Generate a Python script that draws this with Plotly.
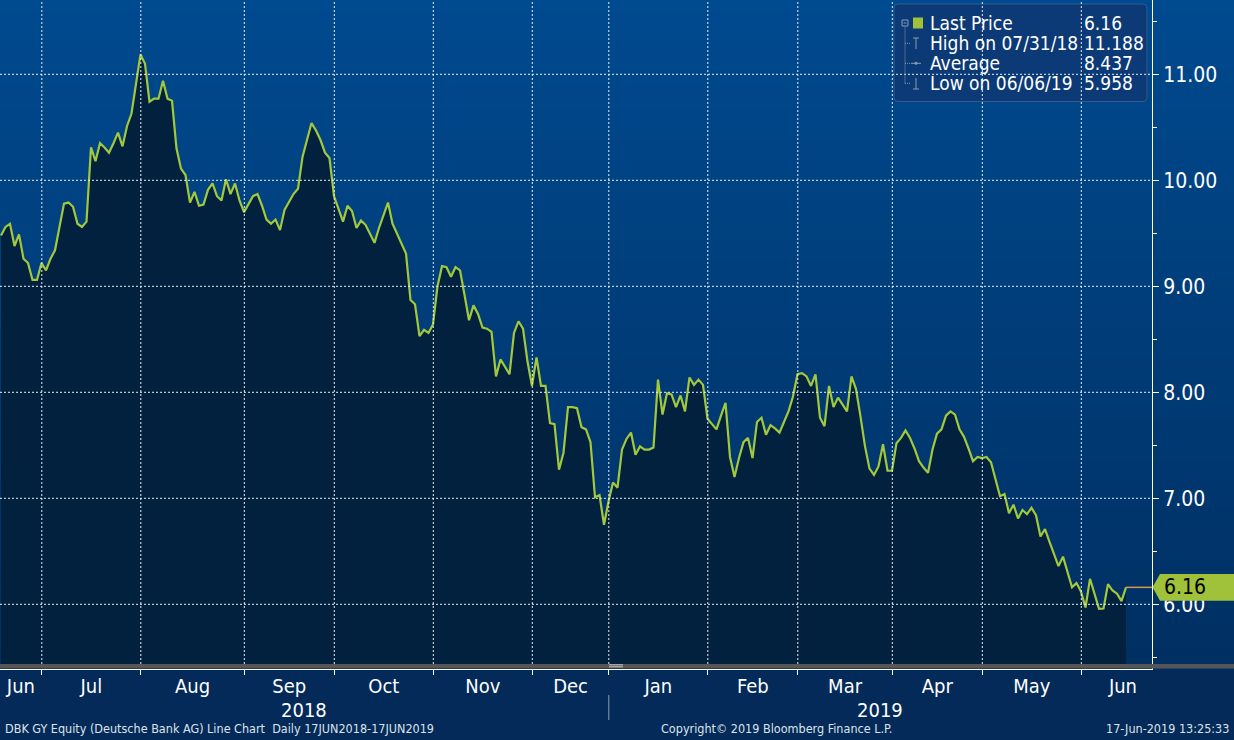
import pandas as pd
import plotly.graph_objects as go

# ---------------- data ----------------
START, END = "2018-06-18", "2019-06-17"
HOLIDAYS = ["2018-10-03", "2018-12-24", "2018-12-25", "2018-12-26", "2018-12-31",
            "2019-01-01", "2019-04-19", "2019-04-22", "2019-05-01", "2019-06-10"]

prices = [
    9.48, 9.56, 9.59, 9.38, 9.49, 9.26, 9.22, 9.06, 9.06, 9.22,
    9.15, 9.26, 9.34, 9.56, 9.78, 9.79, 9.75, 9.59, 9.56, 9.61,
    10.31, 10.18, 10.35, 10.31, 10.26, 10.35, 10.45, 10.32, 10.51, 10.63,
    10.92, 11.188, 11.10, 10.74, 10.77, 10.77, 10.94, 10.77, 10.75, 10.30,
    10.11, 10.05, 9.79, 9.89, 9.76, 9.77, 9.91, 9.97, 9.85, 9.81,
    10.01, 9.87, 9.97, 9.81, 9.70, 9.78, 9.85, 9.87, 9.76, 9.63,
    9.59, 9.63, 9.53, 9.72, 9.80, 9.87, 9.92, 10.22, 10.38, 10.54,
    10.47, 10.38, 10.26, 10.21, 9.85, 9.72, 9.61, 9.76, 9.71, 9.55,
    9.62, 9.58, 9.49, 9.41, 9.55, 9.67, 9.79, 9.59, 9.50, 9.40,
    9.31, 8.87, 8.83, 8.53, 8.59, 8.56, 8.64, 9.00, 9.19, 9.18,
    9.09, 9.18, 9.15, 8.92, 8.68, 8.82, 8.74, 8.61, 8.60, 8.57,
    8.15, 8.31, 8.24, 8.17, 8.56, 8.67, 8.60, 8.29, 8.06, 8.33,
    8.06, 8.06, 7.71, 7.70, 7.27, 7.43, 7.86, 7.86, 7.85, 7.67,
    7.65, 7.53, 7.01, 7.03, 6.75, 6.97, 7.15, 7.10, 7.46, 7.56,
    7.62, 7.41, 7.49, 7.46, 7.46, 7.48, 8.12, 7.79, 7.99, 7.98,
    7.86, 7.97, 7.82, 8.14, 8.07, 8.12, 8.07, 7.75, 7.70, 7.65,
    7.78, 7.90, 7.39, 7.20, 7.38, 7.53, 7.57, 7.38, 7.72, 7.76,
    7.60, 7.69, 7.66, 7.62, 7.72, 7.82, 7.96, 8.17, 8.18, 8.15,
    8.06, 8.17, 7.76, 7.68, 8.06, 7.86, 7.95, 7.88, 7.82, 8.15,
    8.03, 7.77, 7.49, 7.28, 7.22, 7.30, 7.51, 7.26, 7.26, 7.52,
    7.57, 7.64, 7.57, 7.47, 7.35, 7.29, 7.24, 7.46, 7.61, 7.65,
    7.78, 7.82, 7.79, 7.65, 7.58, 7.47, 7.35, 7.39, 7.38, 7.39,
    7.34, 7.18, 7.02, 7.04, 6.86, 6.94, 6.81, 6.89, 6.85, 6.91,
    6.84, 6.64, 6.71, 6.59, 6.48, 6.36, 6.45, 6.31, 6.16, 6.20,
    6.12, 5.97, 6.24, 6.10, 5.958, 5.96, 6.19, 6.13, 6.10, 6.03,
    6.16,
]

y_ticks = [6, 7, 8, 9, 10, 11]
y_minor = [5.5, 6.5, 7.5, 8.5, 9.5, 10.5, 11.5]
AVERAGE_TEXT = "8.437"
FOOTER_LEFT = "DBK GY Equity (Deutsche Bank AG) Line Chart  Daily 17JUN2018-17JUN2019"
FOOTER_MID = "Copyright\u00a9 2019 Bloomberg Finance L.P."
FOOTER_RIGHT = "17-Jun-2019 13:25:33"

# ---------------- derived ----------------
dates = pd.bdate_range(START, END)
dates = dates[~dates.isin(pd.to_datetime(HOLIDAYS))]
assert len(dates) == len(prices), (len(dates), len(prices))
idx = list(range(len(prices)))

i_hi = max(idx, key=lambda i: prices[i])
i_lo = min(idx, key=lambda i: prices[i])
legend_labels = ["Last Price",
                 "High on " + dates[i_hi].strftime("%m/%d/%y"),
                 "Average",
                 "Low on " + dates[i_lo].strftime("%m/%d/%y")]
legend_values = [f"{prices[-1]:.2f}", f"{prices[i_hi]:.3f}", AVERAGE_TEXT, f"{prices[i_lo]:.3f}"]

# ---------------- geometry / style ----------------
W, H = 1234, 740
ML, MR, MT, MB = 0, 82, 0, 71
PW, PH = W - ML - MR, H - MT - MB
STEP = 4.5
X0PX = 1.0
XMIN = (0 - X0PX) / STEP
XMAX = (PW - X0PX) / STEP
PXU = 106.0
Y11 = 74.3
YMAX = 11 + Y11 / PXU
YMIN = 11 - (PH - Y11) / PXU

FONT = "DejaVu Sans Condensed, DejaVu Sans, Verdana, sans-serif"
LINE_GREEN = "#a3c83b"
TAG_GREEN = "#a0c23a"
FILL_DARK = "#02213f"
FOOT_BG = "#032a58"
WHITE = "#ffffff"


def px(p):
    return p / PW


def py(p):
    return (PH - p) / PH


month_first = [i for i in range(1, len(dates)) if dates[i].month != dates[i - 1].month]
bounds = [i - 0.93 for i in month_first]
edges = [XMIN] + bounds + [bounds[-1] + 18.5]
centers = [(a + b) / 2 for a, b in zip(edges[:-1], edges[1:])]
month_labels = [dates[0].strftime("%b")] + [dates[i].strftime("%b") for i in month_first]
year_bound = [b for b, i in zip(bounds, month_first) if dates[i].month == 1][0]

fig = go.Figure()

fig.add_trace(go.Scatter(
    x=idx, y=prices, mode="lines",
    line=dict(color=LINE_GREEN, width=2.2),
    fill="tozeroy", fillcolor=FILL_DARK,
    customdata=dates.strftime("%d-%b-%Y"),
    hovertemplate="%{customdata}: %{y:.3f}<extra></extra>",
    showlegend=False,
))
fig.add_trace(go.Scatter(
    x=[idx[-1], XMAX], y=[prices[-1], prices[-1]], mode="lines",
    line=dict(color="#d39b4a", width=1.5), hoverinfo="skip", showlegend=False,
))

shapes = []
# background gradient
top, bot = (0, 74, 143), (0, 47, 98)
N = 67
for k in range(N):
    t = (k + 0.5) / N
    c = tuple(round(top[j] + (bot[j] - top[j]) * t) for j in range(3))
    shapes.append(dict(type="rect", xref="paper", yref="paper", x0=0, x1=W / PW,
                       y0=1 - (k + 1) / N - 0.002, y1=1 - k / N,
                       fillcolor="rgb(%d,%d,%d)" % c, line=dict(width=0), layer="below"))

# legend box (rounded)
lx0, lx1, ly0, ly1, r = 894, 1147, 4, 101.5, 4
rx, ry = r / PW, r / PH
path = (f"M {px(lx0)+rx},{py(ly0)} L {px(lx1)-rx},{py(ly0)} Q {px(lx1)},{py(ly0)} {px(lx1)},{py(ly0)-ry} "
        f"L {px(lx1)},{py(ly1)+ry} Q {px(lx1)},{py(ly1)} {px(lx1)-rx},{py(ly1)} "
        f"L {px(lx0)+rx},{py(ly1)} Q {px(lx0)},{py(ly1)} {px(lx0)},{py(ly1)+ry} "
        f"L {px(lx0)},{py(ly0)-ry} Q {px(lx0)},{py(ly0)} {px(lx0)+rx},{py(ly0)} Z")
shapes.append(dict(type="path", xref="paper", yref="paper", path=path,
                   fillcolor="#0b3a76", line=dict(color="#34598c", width=1), layer="above"))

# gridlines (drawn above the dark fill, as in the original)
for v in y_ticks:
    shapes.append(dict(type="line", xref="paper", yref="y", x0=0, x1=1, y0=v, y1=v,
                       line=dict(color="#e8eef8", width=1, dash="2px,2px"), layer="above"))
for b in bounds:
    shapes.append(dict(type="line", xref="x", yref="paper", x0=b, x1=b, y0=py(664), y1=1,
                       line=dict(color="#e8eef8", width=1, dash="2px,2px"), layer="above"))

# scrollbar-like grey strip at bottom of the plot
shapes.append(dict(type="rect", xref="paper", yref="paper", x0=0, x1=W / PW, y0=py(668.5), y1=py(664),
                   fillcolor="#565656", line=dict(width=0), layer="above"))
for yy in (664.8, 666.8):
    shapes.append(dict(type="line", xref="paper", yref="paper", x0=px(609), x1=px(623), y0=py(yy), y1=py(yy),
                       line=dict(color="#c8c8c8", width=1), layer="above"))

# year separator
shapes.append(dict(type="line", xref="x", yref="paper", x0=year_bound, x1=year_bound,
                   y0=py(720), y1=py(695), line=dict(color="#8f9fb8", width=1)))

# legend tree glyphs
G = "#8c9bb3"
shapes += [
    dict(type="rect", xref="paper", yref="paper", x0=px(902), x1=px(908), y0=py(26), y1=py(20),
         line=dict(color=G, width=1), fillcolor="rgba(0,0,0,0)", layer="above"),
    dict(type="line", xref="paper", yref="paper", x0=px(903.5), x1=px(906.5), y0=py(23), y1=py(23),
         line=dict(color=G, width=1), layer="above"),
    dict(type="line", xref="paper", yref="paper", x0=px(905), x1=px(905), y0=py(83.5), y1=py(26),
         line=dict(color=G, width=1, dash="1px,1px"), layer="above"),
    dict(type="rect", xref="paper", yref="paper", x0=px(913), x1=px(923), y0=py(28.5), y1=py(17.5),
         fillcolor=TAG_GREEN, line=dict(width=0), layer="above"),
]
for yy in (43.3, 63.3, 83.3):
    shapes.append(dict(type="line", xref="paper", yref="paper", x0=px(905), x1=px(911), y0=py(yy), y1=py(yy),
                       line=dict(color=G, width=1, dash="1px,1px"), layer="above"))
shapes += [
    dict(type="line", xref="paper", yref="paper", x0=px(916), x1=px(916), y0=py(49), y1=py(38),
         line=dict(color=G, width=1), layer="above"),
    dict(type="line", xref="paper", yref="paper", x0=px(913), x1=px(919), y0=py(38), y1=py(38),
         line=dict(color=G, width=1), layer="above"),
    dict(type="line", xref="paper", yref="paper", x0=px(911), x1=px(921), y0=py(63.3), y1=py(63.3),
         line=dict(color=G, width=1), layer="above"),
    dict(type="circle", xref="paper", yref="paper", x0=px(914.5), x1=px(917.5), y0=py(64.8), y1=py(61.8),
         fillcolor=G, line=dict(width=0), layer="above"),
    dict(type="line", xref="paper", yref="paper", x0=px(916), x1=px(916), y0=py(89), y1=py(78),
         line=dict(color=G, width=1), layer="above"),
    dict(type="line", xref="paper", yref="paper", x0=px(913), x1=px(919), y0=py(89), y1=py(89),
         line=dict(color=G, width=1), layer="above"),
]

# last price tag
last = prices[-1]
h = 13.3 / PXU
tag = (f"M {px(1152.5)},{last} L {px(1160)},{last + h} L {px(1234)},{last + h} "
       f"L {px(1234)},{last - h} L {px(1160)},{last - h} Z")
shapes.append(dict(type="path", xref="paper", yref="y", path=tag, fillcolor=TAG_GREEN,
                   line=dict(width=0), layer="above"))

annotations = []
for k, (lab, val) in enumerate(zip(legend_labels, legend_values)):
    yy = py(23.3 + 20 * k)
    annotations.append(dict(xref="paper", yref="paper", x=px(928), y=yy, text=lab, showarrow=False,
                            xanchor="left", yanchor="middle", font=dict(family=FONT, size=19, color=WHITE)))
    annotations.append(dict(xref="paper", yref="paper", x=px(1082), y=yy, text=val, showarrow=False,
                            xanchor="left", yanchor="middle", font=dict(family=FONT, size=19, color=WHITE)))

annotations.append(dict(xref="paper", yref="y", x=px(1162), y=last, text=f"{last:.2f}", showarrow=False,
                        xanchor="left", yanchor="middle", font=dict(family=FONT, size=21, color="#000000")))

annotations.append(dict(xref="x", yref="paper", x=(XMIN + year_bound) / 2, y=py(710),
                        text=str(dates[0].year), showarrow=False, xanchor="center", yanchor="middle",
                        font=dict(family=FONT, size=20, color=WHITE)))
annotations.append(dict(xref="x", yref="paper", x=(year_bound + XMAX) / 2, y=py(710),
                        text=str(dates[-1].year), showarrow=False, xanchor="center", yanchor="middle",
                        font=dict(family=FONT, size=20, color=WHITE)))
FOOT = dict(family=FONT, size=12.5, color="#dde3ec")
annotations += [
    dict(xref="paper", yref="paper", x=px(3), y=py(728), text=FOOTER_LEFT, showarrow=False,
         xanchor="left", yanchor="middle", font=FOOT),
    dict(xref="paper", yref="paper", x=px(776), y=py(728), text=FOOTER_MID, showarrow=False,
         xanchor="center", yanchor="middle", font=FOOT),
    dict(xref="paper", yref="paper", x=px(1231), y=py(728), text=FOOTER_RIGHT, showarrow=False,
         xanchor="right", yanchor="middle", font=FOOT),
]

fig.update_layout(
    width=W, height=H,
    margin=dict(l=ML, r=MR, t=MT, b=MB, pad=0),
    paper_bgcolor=FOOT_BG, plot_bgcolor="rgba(0,0,0,0)",
    showlegend=False,
    shapes=shapes, annotations=annotations,
    xaxis=dict(
        range=[XMIN, XMAX], tickmode="array", tickvals=centers, ticktext=month_labels,
        ticks="", showgrid=False, zeroline=False, showline=True, linecolor=WHITE, linewidth=1,
        tickfont=dict(family=FONT, size=20, color=WHITE), ticklabelstandoff=-1,
        minor=dict(tickmode="array", tickvals=bounds, ticks="outside", ticklen=5,
                   tickcolor=WHITE, tickwidth=1, showgrid=False),
        fixedrange=True,
    ),
    yaxis=dict(
        range=[YMIN, YMAX], side="right", tickmode="array", tickvals=y_ticks, tickformat=".2f",
        ticks="outside", ticklen=6, tickcolor=WHITE, tickwidth=1,
        showgrid=False, zeroline=False, showline=True, linecolor=WHITE, linewidth=1,
        tickfont=dict(family=FONT, size=21, color=WHITE),
        minor=dict(tickmode="array", tickvals=y_minor, ticks="outside", ticklen=4,
                   tickcolor=WHITE, tickwidth=1, showgrid=False),
        fixedrange=True,
    ),
)

fig.write_html(
    "out.html",
    config={"displayModeBar": False},
    post_script="document.body.style.margin='0px';document.body.style.overflow='hidden';"
                "document.body.style.background='" + FOOT_BG + "';",
)
